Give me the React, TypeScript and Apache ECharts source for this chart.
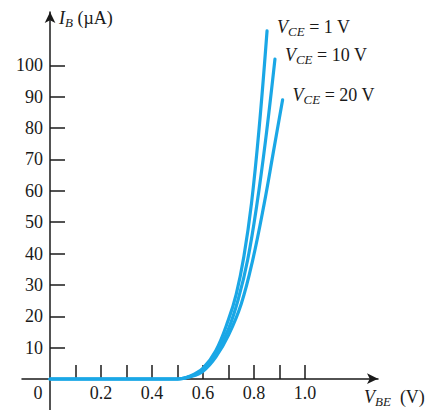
import React, { useEffect, useRef } from "react";
import * as echarts from "echarts";

const vce1: [number, number][] = [[0, 0], [0.5, 0], [0.55, 1], [0.6, 3.5], [0.65, 9], [0.7, 19], [0.73, 27], [0.76, 39], [0.79, 56], [0.82, 80], [0.851, 111]];
const vce10: [number, number][] = [[0, 0], [0.5, 0], [0.55, 0.8], [0.6, 3], [0.65, 8], [0.7, 16], [0.74, 26], [0.775, 38], [0.81, 55], [0.845, 76], [0.882, 102]];
const vce20: [number, number][] = [[0, 0], [0.5, 0], [0.55, 0.7], [0.6, 2.5], [0.65, 7], [0.7, 14], [0.75, 24], [0.795, 38], [0.84, 56], [0.875, 72], [0.912, 89]];
const seriesNames = ["1 V", "10 V", "20 V"];
const xTicks = [0.1, 0.2, 0.3, 0.4, 0.5, 0.6, 0.7, 0.8, 0.9, 1.0];
const xLabels = [0, 0.2, 0.4, 0.6, 0.8, 1.0];
const yTicks = [10, 20, 30, 40, 50, 60, 70, 80, 90, 100];

const FONT = "Liberation Serif";
const BLUE = "#1aa7e6";
const INK = "#1a1a1a";

const subRich = {
  v: { fontFamily: FONT, fontSize: 18, fontStyle: "italic", color: INK },
  s: { fontFamily: FONT, fontSize: 13, fontStyle: "italic", color: INK, padding: [9, 0, 0, 0] },
  t: { fontFamily: FONT, fontSize: 18, color: INK },
};

const axisLineStyle = { color: INK, width: 1.5 };

export default function App() {
  const ref = useRef<HTMLDivElement>(null);
  useEffect(() => {
    const chart = echarts.init(ref.current!, undefined, { renderer: "svg" });
    const mk = (name: string, data: [number, number][], offset: [number, number]) => ({
      type: "line",
      name,
      data,
      xAxisIndex: 1,
      yAxisIndex: 1,
      smooth: 0.4,
      clip: false,
      showSymbol: false,
      lineStyle: { color: BLUE, width: 3.2, cap: "round" },
      endLabel: {
        show: true,
        formatter: () => `{v|V}{s|CE}{t| = ${name}}`,
        rich: subRich,
        offset,
      },
    });
    chart.setOption({
      animation: false,
      grid: [
        { left: 22, right: 57, top: 12, bottom: 0, outerBoundsMode: "none", containLabel: false },
        { left: 50, right: 57, top: 12, bottom: 31, outerBoundsMode: "none", containLabel: false },
      ],
      xAxis: [
        {
          type: "value",
          gridIndex: 0,
          min: -0.11,
          max: 1.286,
          splitLine: { show: false },
          axisLine: { onZero: true, symbol: ["none", "arrow"], symbolSize: [8, 11], lineStyle: axisLineStyle },
          axisTick: { show: false },
          axisLabel: { show: false },
        },
        {
          type: "value",
          gridIndex: 1,
          min: 0,
          max: 1.286,
          splitLine: { show: false },
          axisLine: { show: false },
          axisTick: { show: true, inside: true, length: 14, customValues: xTicks, lineStyle: axisLineStyle },
          axisLabel: {
            customValues: xLabels,
            margin: 5,
            fontFamily: FONT,
            fontSize: 18,
            color: INK,
            formatter: (v: number) => (v === 0 ? "{z|0}" : v.toFixed(1)),
            rich: { z: { fontFamily: FONT, fontSize: 18, color: INK, padding: [0, 24, 0, 0] } },
          },
          name: "{v|V}{s|BE}{t|  (V)}",
          nameLocation: "end",
          nameGap: -14,
          nameTextStyle: { align: "left", verticalAlign: "top", padding: [7, 0, 0, 0], rich: subRich },
        },
      ],
      yAxis: [
        {
          type: "value",
          gridIndex: 0,
          min: -10,
          max: 117,
          splitLine: { show: false },
          axisLine: { onZero: true, symbol: ["none", "arrow"], symbolSize: [8, 11], lineStyle: axisLineStyle },
          axisTick: { show: false },
          axisLabel: { show: false },
        },
        {
          type: "value",
          gridIndex: 1,
          min: 0,
          max: 117,
          splitLine: { show: false },
          axisLine: { show: false },
          axisTick: { show: true, inside: true, length: 15, customValues: yTicks, lineStyle: axisLineStyle },
          axisLabel: { customValues: yTicks, margin: 7, fontFamily: FONT, fontSize: 18, color: INK },
          name: "{v|I}{s|B}{t| (µA)}",
          nameLocation: "end",
          nameGap: -6,
          nameTextStyle: { align: "left", verticalAlign: "middle", padding: [0, 0, 0, 9], rich: subRich },
        },
      ],
      series: [
        mk(seriesNames[0], vce1, [2, -4]),
        mk(seriesNames[1], vce10, [2, -4]),
        mk(seriesNames[2], vce20, [2, -5]),
      ],
    });
    return () => chart.dispose();
  }, []);
  return <div ref={ref} style={{ width: 435, height: 410, position: "absolute", left: 0, top: 0 }} />;
}
